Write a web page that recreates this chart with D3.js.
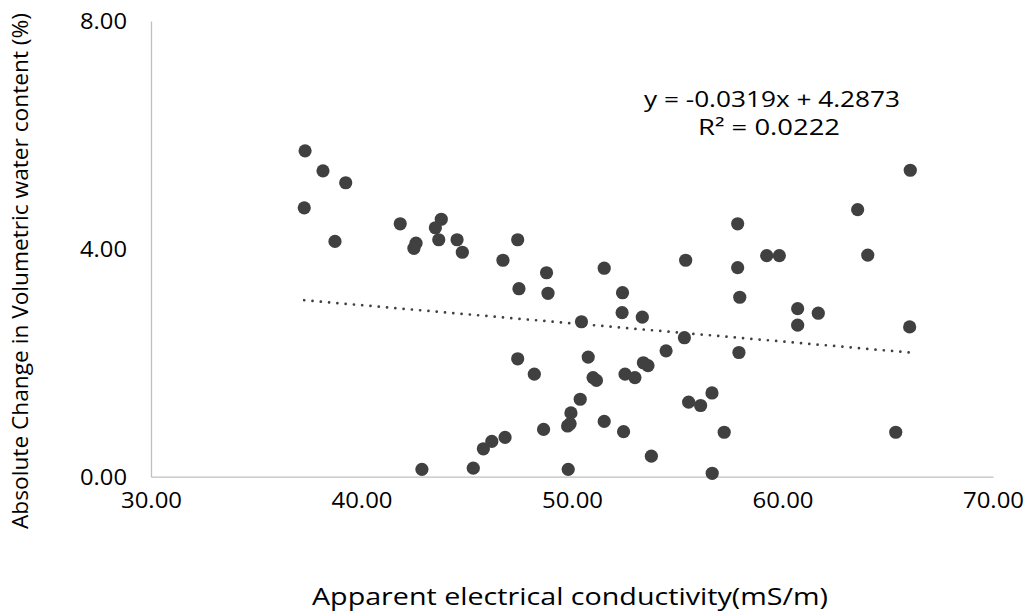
<!DOCTYPE html>
<html>
<head>
<meta charset="utf-8">
<script src="https://cdn.jsdelivr.net/npm/d3@7"></script>
<style>
  html, body { margin: 0; padding: 0; background: #ffffff; }
  svg text { font-family: "Open Sans", "Liberation Sans", sans-serif; fill: #000000; }
</style>
</head>
<body>
<svg id="chart" width="1031" height="616"></svg>
<script>
// Apparent electrical conductivity (mS/m)
const ecValues = [
  37.32, 38.17, 39.25, 37.28, 38.74, 41.84, 42.59, 42.49, 43.79, 43.51,
  43.67, 44.54, 44.79, 46.72, 47.42, 48.79, 51.53, 55.40, 47.48, 48.86,
  52.40, 52.38, 53.34, 50.45, 55.34, 54.47, 47.42, 48.21, 50.77, 51.00,
  51.16, 52.52, 52.99, 53.39, 53.61, 50.39, 49.95, 49.79, 49.91, 51.53,
  52.45, 48.65, 46.82, 46.19, 45.79, 45.31, 42.87, 49.82, 53.77, 55.54,
  56.11, 56.65, 57.23, 56.66, 57.97, 57.93, 60.72, 61.70, 60.72, 66.04,
  65.38, 66.07, 63.57, 57.87, 59.25, 59.85, 64.05, 57.87
];
// Absolute change in volumetric water content (%)
const vwcValues = [
  5.72, 5.37, 5.16, 4.72, 4.13, 4.44, 4.10, 4.01, 4.52, 4.37,
  4.16, 4.16, 3.94, 3.80, 4.16, 3.58, 3.66, 3.80, 3.30, 3.22,
  3.23, 2.88, 2.80, 2.72, 2.44, 2.21, 2.07, 1.80, 2.10, 1.74,
  1.69, 1.80, 1.74, 2.00, 1.95, 1.36, 1.12, 0.89, 0.93, 0.97,
  0.79, 0.83, 0.69, 0.62, 0.49, 0.15, 0.13, 0.13, 0.36, 1.31,
  1.25, 1.47, 0.78, 0.06, 3.15, 2.18, 2.95, 2.87, 2.66, 2.63,
  0.78, 5.38, 4.69, 4.44, 3.88, 3.88, 3.89, 3.67
];
const xTicks = [30, 40, 50, 60, 70];
const yTicks = [0, 4, 8];
const trendSlope = -0.0319;
const trendIntercept = 4.2873;
const equationLines = ["y = -0.0319x + 4.2873", "R\u00B2 = 0.0222"];
const xTitle = "Apparent electrical conductivity(mS/m)";
const yTitle = "Absolute Change in Volumetric water content (%)";

(function () {
const svg = d3.select("#chart");
const mLeft = 151, mRight = 993, mTop = 21, mBottom = 476.7;

const x = d3.scaleLinear().domain([30, 70]).range([mLeft, mRight]);
const y = d3.scaleLinear().domain([0, 8]).range([mBottom, mTop]);

// Axes
const xAxis = d3.axisBottom(x).tickValues(xTicks).tickSize(0).tickFormat(d3.format(".2f"));
const yAxis = d3.axisLeft(y).tickValues(yTicks).tickSize(0).tickFormat(d3.format(".2f"));

const gx = svg.append("g").attr("transform", `translate(0,${mBottom})`).call(xAxis);
gx.select(".domain").attr("stroke", "#bfbfbf").attr("stroke-width", 1.3);
gx.selectAll("text")
  .attr("font-size", 21).attr("dy", "0.35em").attr("y", 24).attr("fill", "#000")
  .attr("textLength", 61).attr("lengthAdjust", "spacingAndGlyphs");

const gy = svg.append("g").attr("transform", `translate(${mLeft},0)`).call(yAxis);
gy.select(".domain").attr("stroke", "#bfbfbf").attr("stroke-width", 1.3);
gy.selectAll("text")
  .attr("font-size", 21).attr("x", -24).attr("dy", "0.35em").attr("fill", "#000")
  .attr("textLength", 47).attr("lengthAdjust", "spacingAndGlyphs");

svg.selectAll("g text").attr("font-family", "\"Open Sans\", sans-serif");

// Trend line
const data = ecValues.map((v, i) => ({ ec: v, vwc: vwcValues[i] }));
const xMin = d3.min(ecValues), xMax = d3.max(ecValues);
const trend = [xMin, xMax].map(v => ({ ec: v, vwc: trendSlope * v + trendIntercept }));
svg.append("path")
  .datum(trend)
  .attr("fill", "none")
  .attr("stroke", "#404040")
  .attr("stroke-width", 2.7)
  .attr("stroke-linecap", "round")
  .attr("stroke-dasharray", "0.01 8.3")
  .attr("d", d3.line().x(d => x(d.ec)).y(d => y(d.vwc)));

// Points
svg.append("g").selectAll("circle")
  .data(data)
  .join("circle")
  .attr("cx", d => x(d.ec))
  .attr("cy", d => y(d.vwc))
  .attr("r", 6.6)
  .attr("fill", "#404040");

// Equation label
svg.append("text")
  .attr("x", 772).attr("y", 107)
  .attr("text-anchor", "middle")
  .attr("font-size", 22)
  .attr("textLength", 256).attr("lengthAdjust", "spacingAndGlyphs")
  .text(equationLines[0]);
svg.append("text")
  .attr("x", 769).attr("y", 135)
  .attr("text-anchor", "middle")
  .attr("font-size", 22)
  .attr("textLength", 142).attr("lengthAdjust", "spacingAndGlyphs")
  .text(equationLines[1]);

// Axis titles
svg.append("text")
  .attr("x", 570).attr("y", 605)
  .attr("text-anchor", "middle")
  .attr("font-size", 24)
  .attr("textLength", 516).attr("lengthAdjust", "spacingAndGlyphs")
  .text(xTitle);
svg.append("text")
  .attr("transform", "translate(28,271) rotate(-90)")
  .attr("text-anchor", "middle")
  .attr("font-size", 22)
  .attr("textLength", 516).attr("lengthAdjust", "spacingAndGlyphs")
  .text(yTitle);
})();
</script>
</body>
</html>
